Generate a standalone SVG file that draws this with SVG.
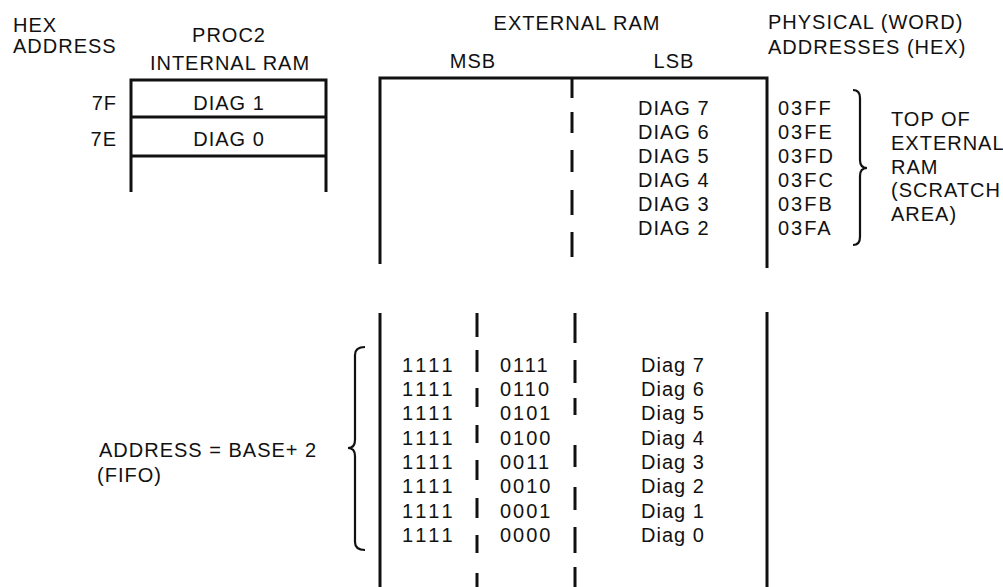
<svg xmlns="http://www.w3.org/2000/svg" width="1003" height="587" viewBox="0 0 1003 587">
<style>
text{font-family:"Liberation Sans",Arial,sans-serif;font-size:20px;letter-spacing:1px;fill:#111}
.m{text-anchor:middle}
.e{text-anchor:end}
.w2{letter-spacing:2px}
.w3{letter-spacing:3.5px}
.ln{stroke:#111;stroke-width:3;fill:none;stroke-linecap:butt}
.br{stroke:#111;stroke-width:2.2;fill:none}
</style>
<rect width="1003" height="587" fill="#fff"/>
<g id="headers">
<text x="13" y="32">HEX</text>
<text x="13" y="53">ADDRESS</text>
<text class="m" x="229" y="42">PROC2</text>
<text class="m" x="230" y="70">INTERNAL RAM</text>
<text class="m" x="577" y="30">EXTERNAL RAM</text>
<text class="m" x="473" y="68">MSB</text>
<text class="m" x="674" y="68">LSB</text>
<text x="768" y="29">PHYSICAL (WORD)</text>
<text x="768" y="54">ADDRESSES (HEX)</text>
</g>
<g id="internal-ram">
<path class="ln" d="M131,192 V80 H326 V192 M131,117 H326 M131,156 H326"/>
<text class="e" x="117" y="110">7F</text>
<text class="e" x="117" y="146">7E</text>
<text class="m" x="229" y="110">DIAG 1</text>
<text class="m" x="229" y="146">DIAG 0</text>
</g>
<g id="external-ram-top">
<path class="ln" d="M380,264 V78 H767 V268"/>
<path class="ln" d="M572,78 V98 M572,112 V133 M572,150 V172 M572,190 V215 M572,232 V257"/>
<text x="638" y="115">DIAG 7</text>
<text x="638" y="139">DIAG 6</text>
<text x="638" y="163">DIAG 5</text>
<text x="638" y="187">DIAG 4</text>
<text x="638" y="211">DIAG 3</text>
<text x="638" y="235">DIAG 2</text>
<text class="w2" x="778" y="115">03FF</text>
<text class="w2" x="778" y="139">03FE</text>
<text class="w2" x="778" y="163">03FD</text>
<text class="w2" x="778" y="187">03FC</text>
<text class="w2" x="778" y="211">03FB</text>
<text class="w2" x="778" y="235">03FA</text>
</g>
<g id="scratch-brace">
<path class="br" d="M853,90 Q860,90 860,98 L860,160 Q860,168 867,168 Q860,168 860,176 L860,237 Q860,245 853,245"/>
<text x="891" y="126">TOP OF</text>
<text x="891" y="150">EXTERNAL</text>
<text x="891" y="174">RAM</text>
<text x="891" y="197">(SCRATCH</text>
<text x="891" y="221">AREA)</text>
</g>
<g id="external-ram-fifo">
<path class="ln" d="M380,313 V587 M767,312 V587"/>
<path class="ln" d="M477,313 V337 M477,350 V372 M477,388 V407 M477,425 V443 M477,460 V480 M477,498 V518 M477,535 V553 M477,573 V587"/>
<path class="ln" d="M575,313 V343 M575,360 V383 M575,398 V415 M575,445 V467 M575,487 V510 M575,527 V553 M575,567 V587"/>
<text class="w3" x="402" y="372">1111</text>
<text class="w3" x="402" y="396">1111</text>
<text class="w3" x="402" y="420">1111</text>
<text class="w3" x="402" y="445">1111</text>
<text class="w3" x="402" y="469">1111</text>
<text class="w3" x="402" y="493">1111</text>
<text class="w3" x="402" y="518">1111</text>
<text class="w3" x="402" y="542">1111</text>
<text class="w2" x="500" y="372">0111</text>
<text class="w2" x="500" y="396">0110</text>
<text class="w2" x="500" y="420">0101</text>
<text class="w2" x="500" y="445">0100</text>
<text class="w2" x="500" y="469">0011</text>
<text class="w2" x="500" y="493">0010</text>
<text class="w2" x="500" y="518">0001</text>
<text class="w2" x="500" y="542">0000</text>
<text x="641" y="372">Diag 7</text>
<text x="641" y="396">Diag 6</text>
<text x="641" y="420">Diag 5</text>
<text x="641" y="445">Diag 4</text>
<text x="641" y="469">Diag 3</text>
<text x="641" y="493">Diag 2</text>
<text x="641" y="518">Diag 1</text>
<text x="641" y="542">Diag 0</text>
</g>
<g id="fifo-brace">
<path class="br" d="M365,347 Q355,347 355,355 L355,440 Q355,448 348,448 Q355,448 355,456 L355,542 Q355,550 365,550"/>
<text x="99" y="457">ADDRESS = BASE+ 2</text>
<text x="97" y="482">(FIFO)</text>
</g>
</svg>
